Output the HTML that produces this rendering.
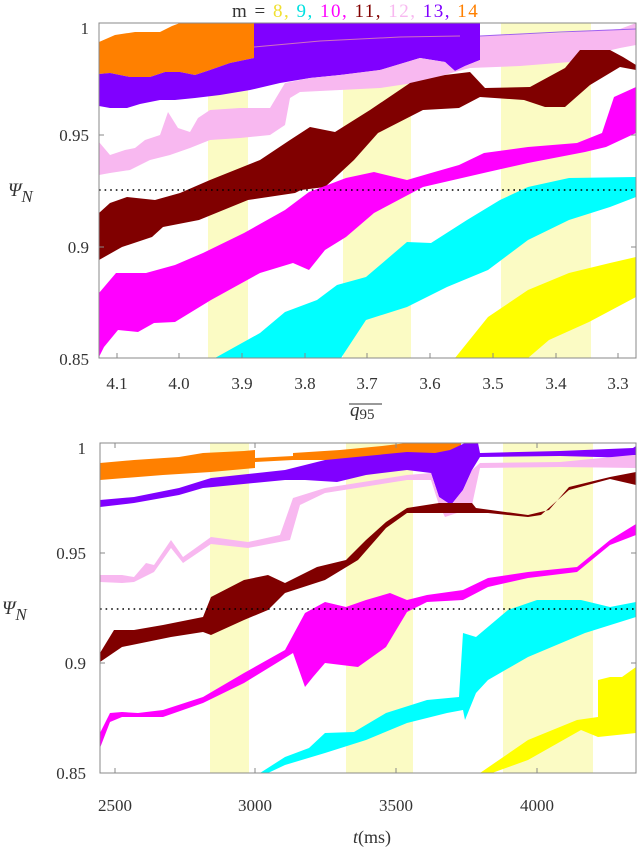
<!DOCTYPE html>
<html><head><meta charset="utf-8"><style>
body{margin:0;background:#fff;}
svg text{font-family:"Liberation Serif",serif;}
</style></head><body>
<svg width="637" height="850" viewBox="0 0 637 850" xmlns="http://www.w3.org/2000/svg">
<!-- title -->
<text x="232" y="17" font-size="19" fill="#333" letter-spacing="1.5">m =
<tspan fill="#f0e030">8,</tspan> <tspan fill="#00e0e0">9,</tspan> <tspan fill="#ff00ff">10,</tspan> <tspan fill="#800000">11,</tspan> <tspan fill="#f8b8f0">12,</tspan> <tspan fill="#8000ff">13,</tspan> <tspan fill="#ff8000">14</tspan></text>

<!-- TOP PANEL -->
<g>
<rect x="208" y="23" width="40" height="335" fill="#fbfbc4"/>
<rect x="343" y="23" width="68" height="335" fill="#fbfbc4"/>
<rect x="501" y="23" width="90" height="335" fill="#fbfbc4"/>
<clipPath id="c1"><rect x="99" y="23" width="537" height="335"/></clipPath>
<g clip-path="url(#c1)">
<path fill="#ff8000" d="M99,42 L115,35 L135,32 L160,32 L172,26 L180,23 L254,23 L254,58 L230,63 L210,70 L195,75 L180,72 L165,72 L150,77 L130,77 L110,73 L99,74 Z"/>
<path fill="#8000ff" d="M99,74 L110,73 L130,77 L150,77 L165,72 L180,72 L195,75 L210,70 L230,63 L254,58 L254,23 L480,23 L480,60 L465,66 L455,71 L445,62 L420,58 L380,70 L340,75 L310,78 L280,83 L250,90 L220,95 L195,98 L175,100 L160,100 L140,104 L127,108 L110,108 L99,106 Z"/>
<path fill="none" stroke="#d070c0" stroke-width="1" d="M254,47 L320,41 L400,37 L460,36"/>
<path fill="#f8b8f0" d="M99,142 L110,155 L125,150 L135,148 L145,140 L160,135 L168,112 L178,128 L190,132 L198,118 L210,110 L240,108 L270,108 L285,83 L310,78 L340,75 L380,70 L420,58 L445,62 L455,71 L465,66 L480,60 L480,36 L560,33 L620,29 L636,23 L636,45 L620,48 L590,55 L570,62 L520,66 L470,68 L455,72 L420,82 L380,88 L340,90 L300,92 L290,98 L285,125 L270,135 L240,138 L210,140 L190,148 L170,155 L150,160 L130,170 L110,173 L99,175 Z"/>
<path fill="none" stroke="#a060f0" stroke-width="1" d="M480,36 L560,32 L636,29"/>
<path fill="#800000" d="M99,213 L110,203 L127,197 L155,200 L180,193 L210,180 L260,160 L290,140 L310,127 L335,132 L370,110 L410,83 L445,75 L470,72 L485,88 L530,87 L565,68 L580,50 L610,50 L623,57 L636,65 L636,70 L620,67 L590,85 L565,107 L545,107 L524,100 L480,97 L459,108 L423,110 L378,133 L354,160 L325,187 L301,190 L295,193 L248,200 L199,220 L163,227 L152,237 L122,247 L99,260 Z"/>
<path fill="#ff00ff" d="M99,293 L116,273 L146,273 L175,265 L203,253 L244,233 L285,210 L309,192 L346,178 L374,172 L407,180 L431,173 L459,165 L484,153 L528,147 L577,143 L602,133 L614,97 L636,87 L636,133 L606,147 L585,152 L528,163 L488,172 L423,187 L374,213 L346,237 L325,250 L309,270 L293,263 L260,273 L211,300 L175,322 L154,323 L138,332 L118,330 L104,347 L99,357 L99,360 Z"/>
<path fill="#00ffff" d="M215,358 L260,333 L285,312 L317,300 L337,285 L366,277 L407,242 L431,243 L467,220 L500,200 L528,187 L569,178 L636,177 L636,197 L610,207 L569,220 L528,240 L488,270 L447,287 L407,307 L366,320 L341,358 Z"/>
<path fill="#ffff00" d="M455,358 L488,317 L528,290 L569,273 L610,263 L636,257 L636,297 L589,322 L549,340 L528,358 Z"/>
</g>
<line x1="99" y1="190" x2="636" y2="190" stroke="#000" stroke-width="1.6" stroke-dasharray="1.6,4"/>
<rect x="99" y="23" width="537" height="335" fill="none" stroke="#888" stroke-width="1"/>
<g stroke="#888">
<line x1="99" y1="135" x2="104" y2="135"/><line x1="99" y1="247" x2="104" y2="247"/>
<line x1="631" y1="135" x2="636" y2="135"/><line x1="631" y1="247" x2="636" y2="247"/>
<line x1="117" y1="358" x2="117" y2="353"/><line x1="179" y1="358" x2="179" y2="353"/><line x1="242" y1="358" x2="242" y2="353"/><line x1="305" y1="358" x2="305" y2="353"/><line x1="367" y1="358" x2="367" y2="353"/><line x1="430" y1="358" x2="430" y2="353"/><line x1="493" y1="358" x2="493" y2="353"/><line x1="556" y1="358" x2="556" y2="353"/><line x1="618" y1="358" x2="618" y2="353"/>
</g>
<g font-size="17" fill="#333" text-anchor="end">
<text x="89" y="34">1</text><text x="89" y="141">0.95</text><text x="89" y="253">0.9</text><text x="89" y="365">0.85</text>
</g>
<g font-size="17" fill="#333" text-anchor="middle">
<text x="117" y="389">4.1</text><text x="179" y="389">4.0</text><text x="242" y="389">3.9</text><text x="305" y="389">3.8</text><text x="367" y="389">3.7</text><text x="430" y="389">3.6</text><text x="493" y="389">3.5</text><text x="556" y="389">3.4</text><text x="618" y="389">3.3</text>
</g>
<line x1="349" y1="404" x2="382" y2="404" stroke="#333" stroke-width="1"/>
<text x="350" y="416" font-size="19" fill="#333" font-style="italic">q<tspan font-style="normal" font-size="15" dy="3">95</tspan></text>
<text x="8" y="196" font-size="19" fill="#333" font-style="italic">Ψ<tspan font-size="17" dy="6">N</tspan></text>
</g>

<!-- BOTTOM PANEL -->
<g>
<rect x="210" y="443" width="39" height="330" fill="#fbfbc4"/>
<rect x="346" y="443" width="67" height="330" fill="#fbfbc4"/>
<rect x="503" y="443" width="90" height="330" fill="#fbfbc4"/>
<clipPath id="c2"><rect x="100" y="443" width="536" height="330"/></clipPath>
<g clip-path="url(#c2)">
<path fill="#ff8000" d="M100,463 L134,460 L179,457 L203,453 L244,451 L255,450 L255,468 L211,472 L163,475 L100,480 Z"/>
<path fill="#ff8000" d="M255,458 L293,456 L293,460 L255,462 Z"/>
<path fill="#ff8000" d="M293,453 L340,450 L382,446 L407,443 L461,443 L461,468 L445,466 L433,462 L382,457 L330,460 L293,460 Z"/>
<path fill="#8000ff" d="M100,500 L134,497 L179,488 L211,478 L285,470 L325,460 L407,452 L435,453 L450,450 L465,443 L478,443 L480,453 L560,451 L633,448 L636,446 L636,458 L560,456 L480,457 L472,470 L463,490 L451,505 L439,497 L431,473 L407,470 L366,475 L337,482 L305,480 L285,480 L203,488 L179,495 L134,503 L100,507 Z"/>
<path fill="#f8b8f0" d="M100,575 L122,575 L134,577 L146,563 L154,565 L171,540 L183,557 L211,537 L248,542 L280,535 L293,498 L325,488 L407,475 L431,473 L439,497 L451,505 L463,490 L472,470 L480,463 L560,462 L633,455 L636,455 L636,468 L560,467 L480,468 L472,505 L460,512 L445,517 L439,505 L431,480 L407,480 L325,493 L300,505 L290,540 L248,548 L211,544 L183,563 L171,548 L154,572 L134,582 L122,583 L100,582 Z"/>
<path fill="#800000" d="M100,653 L114,630 L134,630 L163,625 L203,617 L211,597 L244,580 L268,575 L285,583 L317,567 L346,560 L366,540 L386,522 L407,508 L439,503 L472,503 L476,508 L528,515 L549,510 L569,487 L610,477 L636,472 L636,485 L610,479 L569,490 L541,515 L528,517 L488,513 L407,513 L386,528 L358,560 L325,580 L285,593 L268,610 L244,620 L211,635 L203,632 L171,637 L122,647 L100,662 Z"/>
<path fill="#ff00ff" d="M100,733 L110,713 L122,712 L138,713 L163,710 L203,697 L244,673 L285,650 L305,613 L325,602 L346,607 L366,600 L390,593 L407,600 L427,595 L463,590 L488,578 L528,572 L577,567 L610,540 L636,524 L636,535 L610,545 L577,572 L528,578 L488,587 L463,600 L427,602 L407,612 L386,647 L358,667 L325,663 L313,677 L305,687 L293,653 L244,683 L203,703 L163,717 L122,717 L110,722 L100,748 Z"/>
<path fill="#00ffff" d="M260,773 L285,757 L309,748 L325,733 L354,732 L386,713 L427,700 L459,697 L463,633 L476,637 L508,610 L537,600 L581,600 L610,607 L636,602 L636,617 L585,633 L528,657 L488,680 L476,693 L465,720 L463,710 L447,713 L407,723 L366,740 L325,753 L285,765 L268,773 Z"/>
<path fill="#ffff00" d="M480,773 L528,740 L577,720 L598,717 L598,680 L610,677 L622,677 L636,667 L636,733 L598,737 L581,730 L528,760 L492,773 Z"/>
</g>
<line x1="100" y1="609" x2="636" y2="609" stroke="#000" stroke-width="1.6" stroke-dasharray="1.6,4"/>
<rect x="100" y="443" width="536" height="330" fill="none" stroke="#888" stroke-width="1"/>
<g stroke="#888">
<line x1="100" y1="553" x2="105" y2="553"/><line x1="100" y1="663" x2="105" y2="663"/>
<line x1="631" y1="553" x2="636" y2="553"/><line x1="631" y1="663" x2="636" y2="663"/>
<line x1="115" y1="773" x2="115" y2="768"/><line x1="255" y1="773" x2="255" y2="768"/><line x1="396" y1="773" x2="396" y2="768"/><line x1="537" y1="773" x2="537" y2="768"/>
<line x1="115" y1="443" x2="115" y2="448"/><line x1="255" y1="443" x2="255" y2="448"/><line x1="396" y1="443" x2="396" y2="448"/><line x1="537" y1="443" x2="537" y2="448"/>
</g>
<g font-size="17" fill="#333" text-anchor="end">
<text x="86" y="454">1</text><text x="86" y="559">0.95</text><text x="86" y="669">0.9</text><text x="86" y="779">0.85</text>
</g>
<g font-size="17" fill="#333" text-anchor="middle">
<text x="115" y="811">2500</text><text x="255" y="811">3000</text><text x="396" y="811">3500</text><text x="537" y="811">4000</text>
</g>
<text x="372" y="843" font-size="18" fill="#333" text-anchor="middle"><tspan font-style="italic">t</tspan>(ms)</text>
<text x="2" y="614" font-size="19" fill="#333" font-style="italic">Ψ<tspan font-size="17" dy="6">N</tspan></text>
</g>
</svg>
</body></html>
